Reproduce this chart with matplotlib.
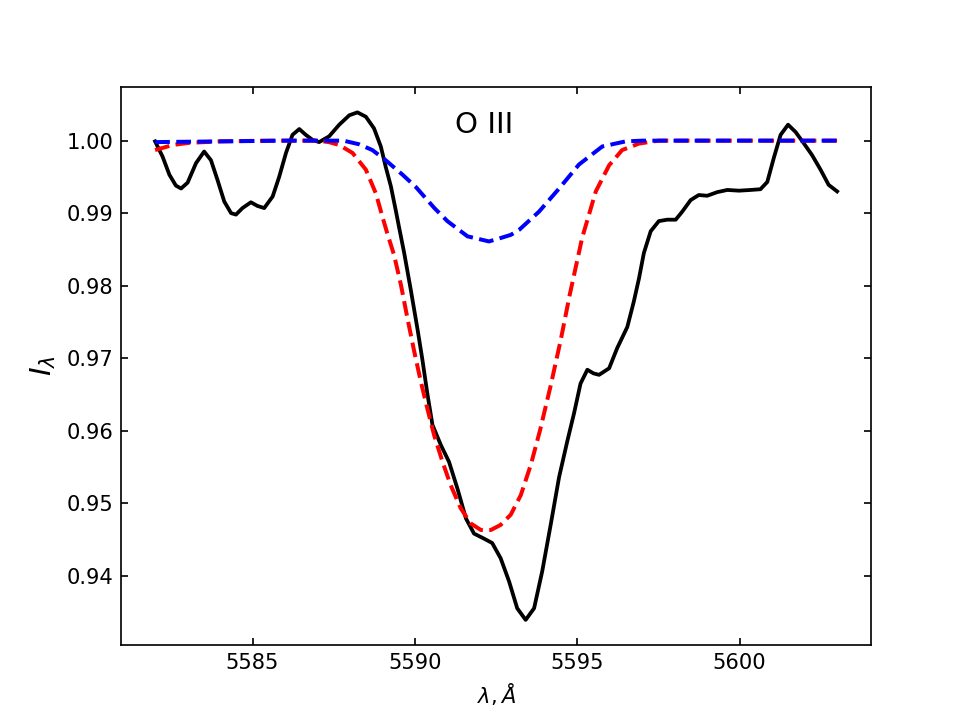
import matplotlib
matplotlib.use("Agg")
import matplotlib.pyplot as plt

# --- observed profile (black) ---
obs_wl = [5582.0, 5582.23, 5582.44, 5582.64, 5582.8, 5583.0, 5583.26, 5583.51, 5583.72,
          5583.92, 5584.13, 5584.34, 5584.49, 5584.69, 5584.95, 5585.15, 5585.36, 5585.62,
          5585.82, 5586.03, 5586.23, 5586.44, 5586.64, 5586.85, 5587.05, 5587.36, 5587.67,
          5587.98, 5588.23, 5588.49, 5588.74, 5588.95, 5589.1, 5589.26, 5589.41, 5589.51,
          5589.67, 5589.87, 5590.08, 5590.23, 5590.38, 5590.54, 5590.8, 5591.05, 5591.31,
          5591.57, 5591.82, 5592.13, 5592.38, 5592.64, 5592.9, 5593.15, 5593.41, 5593.67,
          5593.92, 5594.18, 5594.44, 5594.69, 5594.9, 5595.1, 5595.31, 5595.5, 5595.67,
          5595.98, 5596.23, 5596.54, 5596.74, 5596.9, 5597.05, 5597.26, 5597.51, 5597.77,
          5598.03, 5598.23, 5598.49, 5598.74, 5599.0, 5599.31, 5599.62, 5599.98, 5600.34,
          5600.64, 5600.85, 5601.05, 5601.26, 5601.49, 5601.72, 5601.98, 5602.23, 5602.49,
          5602.74, 5603.0]
obs_flux = [0.9999, 0.9978, 0.9953, 0.9938, 0.9934, 0.9942, 0.9969, 0.9985, 0.9973,
            0.9946, 0.9916, 0.9900, 0.9898, 0.9907, 0.9915, 0.9910, 0.9907, 0.9923,
            0.9950, 0.9983, 1.0008, 1.0016, 1.0008, 1.0001, 0.9998, 1.0006, 1.0022,
            1.0035, 1.0039, 1.0033, 1.0017, 0.9992, 0.9964, 0.9937, 0.9904, 0.9881,
            0.9845, 0.9795, 0.9740, 0.9698, 0.9652, 0.9608, 0.9580, 0.9557, 0.9520,
            0.9479, 0.9458, 0.9451, 0.9445, 0.9424, 0.9392, 0.9355, 0.9339, 0.9355,
            0.9406, 0.9470, 0.9536, 0.9585, 0.9624, 0.9665, 0.9684, 0.9679, 0.9677,
            0.9686, 0.9714, 0.9743, 0.9778, 0.9810, 0.9845, 0.9875, 0.9889, 0.9891,
            0.9891, 0.9902, 0.9918, 0.9925, 0.9924, 0.9929, 0.9932, 0.9931, 0.9932,
            0.9933, 0.9943, 0.9976, 1.0008, 1.0022, 1.0012, 0.9996, 0.9980, 0.9960,
            0.9939, 0.9930]

# --- model profile (red dashed) ---
red_wl = [5582.0, 5582.54, 5583.05, 5584.0, 5585.5, 5587.0, 5587.35, 5587.67, 5588.08,
          5588.49, 5588.8, 5589.0, 5589.15, 5589.36, 5589.57, 5589.77, 5589.98, 5590.18,
          5590.38, 5590.59, 5590.85, 5591.1, 5591.41, 5591.72, 5592.03, 5592.34, 5592.64,
          5592.95, 5593.26, 5593.57, 5593.85, 5594.18, 5594.49, 5594.77, 5595.15, 5595.57,
          5595.98, 5596.38, 5596.9, 5597.5, 5603.0]
red_flux = [0.9987, 0.9994, 0.9997, 0.9999, 1.0000, 1.0000, 0.9998, 0.9994, 0.9983,
            0.9960, 0.9927, 0.9895, 0.9872, 0.9842, 0.9801, 0.9755, 0.9709, 0.9668,
            0.9631, 0.9594, 0.9557, 0.9525, 0.9493, 0.9472, 0.9463, 0.9463, 0.9470,
            0.9484, 0.9511, 0.9553, 0.9600, 0.9662, 0.9725, 0.9788, 0.9866, 0.9930,
            0.9966, 0.9987, 0.9996, 1.0000, 1.0000]

# --- model profile (blue dashed) ---
blue_wl = [5582.0, 5584.0, 5586.0, 5587.8, 5588.28, 5588.69, 5589.1, 5589.62, 5590.03,
           5590.6, 5591.0, 5591.62, 5592.28, 5592.59, 5592.95, 5593.21, 5593.82, 5594.44,
           5595.05, 5595.77, 5596.49, 5597.0, 5603.0]
blue_flux = [0.9998, 0.9999, 1.0000, 1.0000, 0.9995, 0.9987, 0.9973, 0.9953, 0.9936,
             0.9907, 0.9889, 0.9868, 0.9861, 0.9865, 0.9870, 0.9877, 0.9902, 0.9934,
             0.9967, 0.9992, 0.9999, 1.0000, 1.0000]

fig, ax = plt.subplots(figsize=(968 / 151.25, 725 / 151.25), dpi=151.25)

ax.plot(obs_wl, obs_flux, color='black', lw=1.8)
ax.plot(red_wl, red_flux, color='red', lw=1.9, ls='--')
ax.plot(blue_wl, blue_flux, color='blue', lw=1.9, ls='--')

ax.text(0.484, 0.932, 'O III', transform=ax.transAxes, fontsize=14,
        ha='center', va='center')

ax.set_xlabel(r'$\lambda, \AA$')
ax.set_ylabel(r'$I_\lambda$', fontsize=14)
ax.tick_params(direction='in', top=True, right=True)

fig.savefig('out.png', dpi=151.25)
